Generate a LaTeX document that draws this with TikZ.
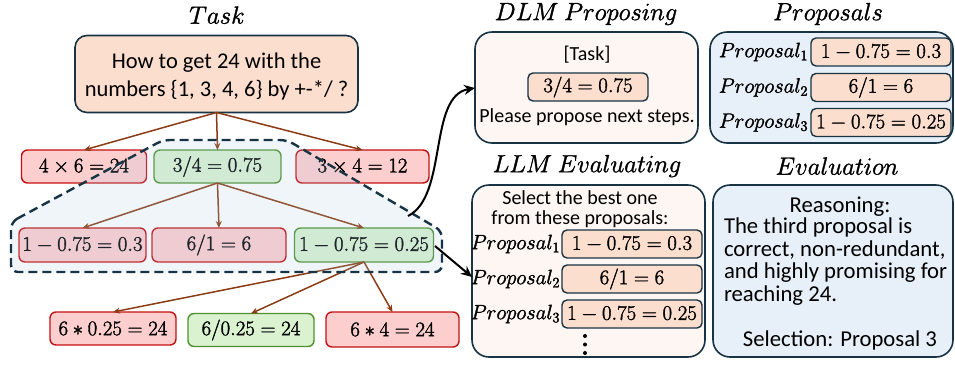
\documentclass[tikz,border=0pt]{standalone}
\usepackage{fontspec}
\setmainfont{Carlito}
\usetikzlibrary{arrows.meta}

\definecolor{navy}{RGB}{24,52,68}
\definecolor{treebrown}{RGB}{140,60,20}
\definecolor{badfill}{RGB}{253,206,206}
\definecolor{badline}{RGB}{196,16,16}
\definecolor{goodfill}{RGB}{218,242,208}
\definecolor{goodline}{RGB}{78,145,46}
\definecolor{peach}{RGB}{251,222,206}
\definecolor{paper}{RGB}{253,246,243}
\definecolor{paleblue}{RGB}{231,239,248}
\definecolor{regionfill}{RGB}{170,200,230}

% slightly heavier glyphs: fill and stroke the outlines
\newcommand\thickglyphs[1]{\special{pdf:literal 2 Tr 0.35 w}#1\special{pdf:literal 0 Tr}}
\newcommand\eq[1]{\thickglyphs{$#1$}}

\tikzset{
  every node/.style={inner sep=0pt, outer sep=0pt},
  mathtxt/.style={font=\fontsize{20.5}{24}\selectfont},
  sanstxt/.style={font=\fontsize{20}{23}\selectfont},
  evaltxt/.style={font=\fontsize{22.7}{22.6}\selectfont},
  titletxt/.style={font=\fontsize{25}{30}\selectfont},
  proplabel/.style={font=\fontsize{19.5}{22}\selectfont, anchor=east},
  bad/.style={draw=badline, fill=badfill, line width=1.4pt, rounded corners=6pt, mathtxt},
  good/.style={draw=goodline, fill=goodfill, line width=1.4pt, rounded corners=6pt, mathtxt},
  chip/.style={draw=navy, fill=peach, line width=1.4pt, rounded corners=5pt, mathtxt,
               minimum width=140pt, minimum height=28pt},
  panel/.style={draw=navy, line width=1.6pt, rounded corners=17pt},
  tree/.style={draw=treebrown, line width=1.5pt, -{Stealth[length=7pt,width=6pt]}},
  jump/.style={draw=black, line width=2pt, -{Stealth[length=11pt,width=10pt]}},
}

\begin{document}
\begin{tikzpicture}[x=1pt,y=-1pt]
\useasboundingbox (0,0) rectangle (955,365);

% ---------- search tree ----------
\node[titletxt] (ttask) at (217,15) {\eq{Task}};
\node[draw=navy, fill=peach, line width=1.6pt, rounded corners=12pt,
      minimum width=283pt, minimum height=77pt] (task) at (216.5,74) {};
\node[font=\fontsize{22.5}{28}\selectfont, align=center] (tasktext) at (216.5,76)
  {How to get 24 with the\\numbers \{1, 3, 4, 6\} by +-*/ ?};

\node[bad,  minimum width=125pt, minimum height=33pt] (a1) at (84,166.5)   {\eq{4\times 6=24}};
\node[good, minimum width=127pt, minimum height=33pt] (a2) at (217.5,166.5) {\eq{3/4=0.75}};
\node[bad,  minimum width=133pt, minimum height=33pt] (a3) at (362.5,166.5) {\eq{3\times 4=12}};

\node[bad,  minimum width=127pt, minimum height=34pt] (b1) at (82.5,245) {\eq{1-0.75=0.3}};
\node[bad,  minimum width=134pt, minimum height=34pt] (b2) at (219,245)  {\eq{6/1=6}};
\node[good, minimum width=139pt, minimum height=34pt] (b3) at (364,245)  {\eq{1-0.75=0.25}};

\node[bad,  minimum width=126pt, minimum height=33pt] (c1) at (113,328.5)  {\eq{6*0.25=24}};
\node[good, minimum width=126pt, minimum height=33pt] (c2) at (251,330)    {\eq{6/0.25=24}};
\node[bad,  minimum width=133pt, minimum height=35pt] (c3) at (392.5,329.5) {\eq{6*4=24}};

\draw[tree] (task.south) -- (a1.north);
\draw[tree] (task.south) -- (a2.north);
\draw[tree] (task.south) -- (a3.north);
\draw[tree] (a2.south) -- (b1.north);
\draw[tree] (a2.south) -- (b2.north);
\draw[tree] (a2.south) -- (b3.north);
\draw[tree] (b3.south) -- (c1.north);
\draw[tree] (b3.south) -- (c2.north);
\draw[tree] (b3.south) -- (c3.north);

% highlighted sub-tree
\draw[draw=navy, line width=2.4pt, dash pattern=on 9pt off 5pt,
      fill=regionfill, fill opacity=0.18, rounded corners=7pt]
  (11,222) -- (163,140) -- (287,140) -- (442,231) -- (442,272) -- (11,272) -- cycle;

% ---------- DLM proposing ----------
\node[titletxt] (tdlm) at (586,14) {\eq{DLM\ Proposing}};
\node[panel, fill=paper, minimum width=223pt, minimum height=111pt] (dlm) at (586.5,87.5) {};
\node[sanstxt] (dlmtask) at (587,55) {[Task]};
\node[chip, minimum width=120pt] (dlmstep) at (588,87) {\eq{3/4=0.75}};
\node[sanstxt] (dlmask) at (587,117) {Please propose next steps.};

% ---------- proposals ----------
\node[titletxt] (tprop) at (828,14) {\eq{Proposals}};
\node[panel, fill=paleblue, minimum width=243pt, minimum height=111pt] (props) at (831.5,87.5) {};
\node[chip] (p1) at (881,52)    {\eq{1-0.75=0.3}};
\node[chip] (p2) at (881,87.5)  {\eq{6/1=6}};
\node[chip] (p3) at (881,122.5) {\eq{1-0.75=0.25}};
\node[proplabel] (pl1) at (808,52)    {\eq{Proposal_1}};
\node[proplabel] (pl2) at (808,87.5)  {\eq{Proposal_2}};
\node[proplabel] (pl3) at (808,122.5) {\eq{Proposal_3}};

% ---------- LLM evaluating ----------
\node[titletxt] (tllm) at (587,166) {\eq{LLM\ Evaluating}};
\node[panel, fill=paper, minimum width=233pt, minimum height=172pt] (llm) at (588.5,271) {};
\node[align=center, font=\fontsize{20}{20}\selectfont] (llmask) at (580,209)
  {Select the best one\\from these proposals:};
\node[chip] (q1) at (632,244) {\eq{1-0.75=0.3}};
\node[chip] (q2) at (632,279) {\eq{6/1=6}};
\node[chip] (q3) at (632,314) {\eq{1-0.75=0.25}};
\node[proplabel] (ql1) at (560,244) {\eq{Proposal_1}};
\node[proplabel] (ql2) at (560,279) {\eq{Proposal_2}};
\node[proplabel] (ql3) at (560,314) {\eq{Proposal_3}};
% vertical ellipsis under the proposal list
\fill (585,336) circle (2);
\fill (585,344.5) circle (2);
\fill (585,353) circle (2);

% ---------- evaluation ----------
\node[titletxt] (teval) at (837,166) {\eq{Evaluation}};
\node[panel, fill=paleblue, minimum width=240pt, minimum height=172pt] (eval) at (833,271) {};
\node[evaltxt] (reason) at (840,207) {Reasoning:};
\node[evaltxt, anchor=north west, align=left] (why) at (724,218)
  {The third proposal is\\correct, non-redundant,\\and highly promising for\\reaching 24.};
\node[evaltxt] (pick) at (840,340) {Selection: Proposal 3};

% ---------- hand-off arrows ----------
\coordinate (outA) at (408,216);
\coordinate (outB) at (435,246);
\draw[jump] (outA) .. controls (448,196) and (428,96) .. (dlm.west |- 0,88);
\draw[jump] (outB) -- (llm.west |- 0,277);
\end{tikzpicture}
\end{document}
